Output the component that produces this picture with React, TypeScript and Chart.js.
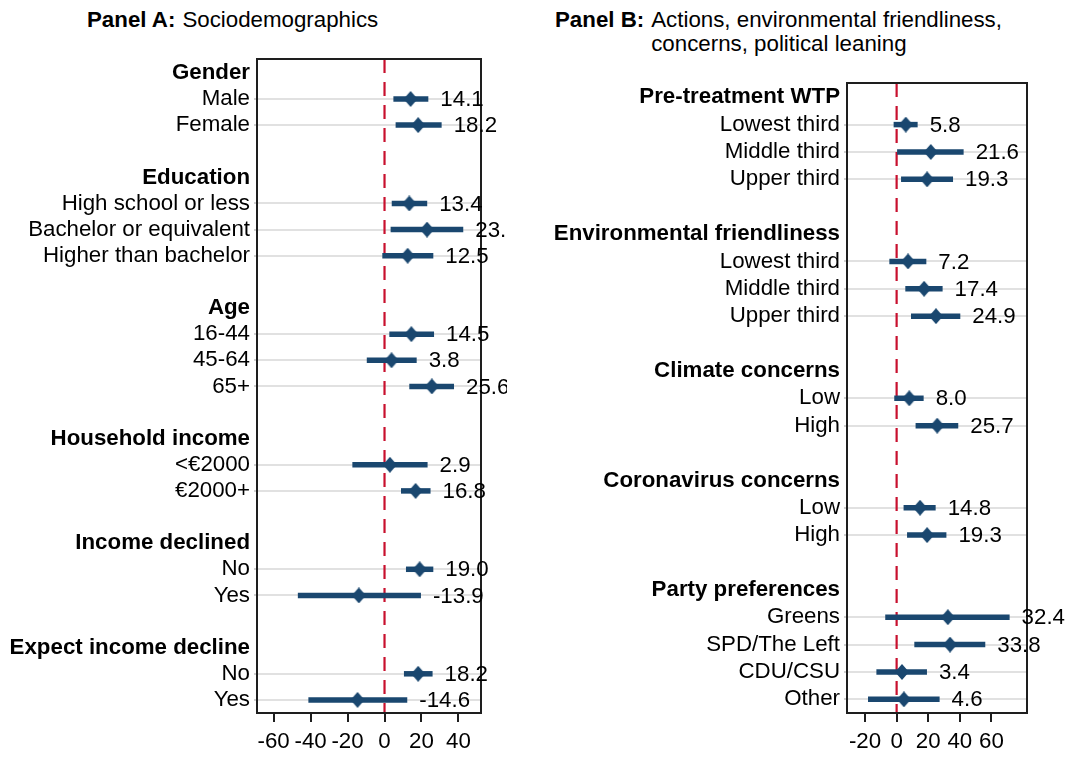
import React, { useEffect, useRef } from 'react';
import { Chart, registerables } from 'chart.js';

Chart.register(...registerables);

const FONT = "'Liberation Sans', Arial, Helvetica, sans-serif";
const FS = 22.3;
const NAVY = '#1a476f';
const RED = '#c8102e';
const GRID = '#e1e1e1';
const FRAME = '#1e1e1e';

// ---------- Panel A: Sociodemographics ----------
const rowsA = [
  'Gender', 'Male', 'Female', '',
  'Education', 'High school or less', 'Bachelor or equivalent', 'Higher than bachelor', '',
  'Age', '16-44', '45-64', '65+', '',
  'Household income', '<€2000', '€2000+', '',
  'Income declined', 'No', 'Yes', '',
  'Expect income decline', 'No', 'Yes',
];
const headersA = [0, 4, 9, 14, 18, 22];
const dataRowsA = [1, 2, 5, 6, 7, 10, 11, 12, 15, 16, 19, 20, 23, 24];
const estA = [14.1, 18.2, 13.4, 23.0, 12.5, 14.5, 3.8, 25.6, 2.9, 16.8, 19.0, -13.9, 18.2, -14.6];
const loA = [4.8, 6.0, 3.9, 3.3, -1.2, 2.6, -9.6, 13.4, -17.4, 8.9, 11.6, -46.9, 10.5, -41.2];
const hiA = [23.7, 30.9, 23.1, 42.6, 26.4, 26.8, 17.4, 37.6, 23.3, 24.9, 26.4, 19.7, 26.0, 12.3];
const xTicksA = [-60, -40, -20, 0, 20, 40];

// ---------- Panel B: Actions, environmental friendliness, concerns, political leaning ----------
const rowsB = [
  'Pre-treatment WTP', 'Lowest third', 'Middle third', 'Upper third', '',
  'Environmental friendliness', 'Lowest third', 'Middle third', 'Upper third', '',
  'Climate concerns', 'Low', 'High', '',
  'Coronavirus concerns', 'Low', 'High', '',
  'Party preferences', 'Greens', 'SPD/The Left', 'CDU/CSU', 'Other',
];
const headersB = [0, 5, 10, 14, 18];
const dataRowsB = [1, 2, 3, 6, 7, 8, 11, 12, 15, 16, 19, 20, 21, 22];
const estB = [5.8, 21.6, 19.3, 7.2, 17.4, 24.9, 8.0, 25.7, 14.8, 19.3, 32.4, 33.8, 3.4, 4.6];
const loB = [-1.9, 0.3, 2.8, -4.6, 5.5, 9.1, -1.5, 12.0, 4.4, 6.6, -7.2, 11.2, -12.8, -18.1];
const hiB = [13.3, 42.4, 35.7, 18.8, 29.1, 40.3, 17.1, 39.0, 24.7, 31.5, 71.5, 56.1, 19.2, 27.2];
const xTicksB = [-20, 0, 20, 40, 60];

type PanelCfg = {
  rows: string[];
  headers: number[];
  dataRows: number[];
  est: number[];
  lo: number[];
  hi: number[];
  xTicks: number[];
  xMin: number;
  xMax: number;
  yMin: number;
  yMax: number;
  axisWidth: number;
  padRight: number;
  padTop: number;
};

function makeDiamond(): HTMLCanvasElement {
  const w = 14;
  const h = 16;
  const c = document.createElement('canvas');
  c.width = w;
  c.height = h;
  const g = c.getContext('2d')!;
  g.fillStyle = NAVY;
  g.beginPath();
  g.moveTo(w / 2, 0);
  g.lineTo(w, h / 2);
  g.lineTo(w / 2, h);
  g.lineTo(0, h / 2);
  g.closePath();
  g.fill();
  return c;
}

function buildChart(canvas: HTMLCanvasElement, p: PanelCfg) {
  const isHeader = (i: any) => p.headers.includes(i);
  const isData = (i: any) => p.dataRows.includes(i);
  const diamond = makeDiamond();
  const datasets: any[] = [];
  datasets.push({
    label: 'estimate',
    data: p.dataRows.map((r, k) => ({ x: p.est[k], y: r })),
    pointStyle: diamond,
    pointRadius: 8,
    pointBackgroundColor: NAVY,
    pointBorderWidth: 0,
    showLine: false,
    order: 0,
  });
  p.dataRows.forEach((r, k) => {
    datasets.push({
      label: 'ci',
      data: [{ x: p.lo[k], y: r }, { x: p.hi[k], y: r }],
      showLine: true,
      borderColor: NAVY,
      borderWidth: 5.5,
      borderCapStyle: 'butt',
      pointRadius: 0,
      order: 1,
    });
  });
  datasets.push({
    label: 'zero',
    data: [{ x: 0, y: p.yMin }, { x: 0, y: p.yMax }],
    showLine: true,
    borderColor: RED,
    borderWidth: 2.2,
    borderDash: [14, 9],
    pointRadius: 0,
    order: 2,
  });

  const overlay = {
    id: 'overlay',
    afterDatasetsDraw(chart: any) {
      const { ctx, chartArea } = chart;
      const xs = chart.scales.x;
      const ys = chart.scales.y;
      ctx.save();
      ctx.strokeStyle = FRAME;
      ctx.lineWidth = 2;
      ctx.strokeRect(chartArea.left, chartArea.top, chartArea.right - chartArea.left, chartArea.bottom - chartArea.top);
      ctx.fillStyle = '#000';
      ctx.font = `${FS}px ${FONT}`;
      ctx.textAlign = 'left';
      ctx.textBaseline = 'middle';
      p.dataRows.forEach((r, k) => {
        const x = xs.getPixelForValue(p.hi[k]) + 12;
        const y = ys.getPixelForValue(r) + 1;
        ctx.fillText(p.est[k].toFixed(1), x, y);
      });
      ctx.restore();
    },
  };

  return new Chart(canvas, {
    type: 'scatter',
    data: { datasets },
    plugins: [overlay],
    options: {
      animation: false,
      responsive: false,
      events: [],
      layout: { padding: { left: 0, right: p.padRight, top: p.padTop, bottom: 0 } },
      plugins: { legend: { display: false }, tooltip: { enabled: false }, title: { display: false } },
      scales: {
        x: {
          type: 'linear',
          min: p.xMin,
          max: p.xMax,
          afterBuildTicks: (s: any) => {
            s.ticks = p.xTicks.map((v) => ({ value: v }));
          },
          afterFit: (s: any) => {
            s.height = 45;
          },
          grid: {
            drawOnChartArea: false,
            drawTicks: true,
            tickLength: 9,
            tickColor: FRAME,
            tickWidth: 2,
            lineWidth: 2,
          },
          border: { display: false },
          ticks: {
            autoSkip: false,
            maxRotation: 0,
            padding: 6,
            color: '#000',
            font: { family: FONT, size: FS },
            callback: (v: any) => String(v),
          },
        },
        y: {
          type: 'linear',
          reverse: true,
          min: p.yMin,
          max: p.yMax,
          afterBuildTicks: (s: any) => {
            s.ticks = p.rows.map((_, i) => ({ value: i }));
          },
          afterFit: (s: any) => {
            s.width = p.axisWidth;
          },
          grid: {
            color: (c: any) => (isData(c.tick?.value) ? GRID : 'rgba(0,0,0,0)'),
            tickColor: (c: any) => (isData(c.tick?.value) ? '#d0d0d0' : 'rgba(0,0,0,0)'),
            lineWidth: 2,
            drawTicks: true,
            tickLength: 3,
          },
          border: { display: false },
          ticks: {
            autoSkip: false,
            padding: 4,
            color: '#000',
            font: (c: any) => ({ family: FONT, size: FS, weight: isHeader(c.tick?.value) ? 'bold' : 'normal' }),
            callback: (v: any) => p.rows[v] ?? '',
          },
        },
      },
    } as any,
  });
}

const panelA: PanelCfg = {
  rows: rowsA, headers: headersA, dataRows: dataRowsA, est: estA, lo: loA, hi: hiA, xTicks: xTicksA,
  xMin: -69, xMax: 52.2, yMin: -0.53, yMax: 24.5, axisWidth: 257, padRight: 26, padTop: 59,
};
const panelB: PanelCfg = {
  rows: rowsB, headers: headersB, dataRows: dataRowsB, est: estB, lo: loB, hi: hiB, xTicks: xTicksB,
  xMin: -31.4, xMax: 82.5, yMin: -0.52, yMax: 22.5, axisWidth: 327, padRight: 42, padTop: 83,
};

export default function App() {
  const refA = useRef<HTMLCanvasElement>(null);
  const refB = useRef<HTMLCanvasElement>(null);
  useEffect(() => {
    const a = buildChart(refA.current!, panelA);
    const b = buildChart(refB.current!, panelB);
    return () => {
      a.destroy();
      b.destroy();
    };
  }, []);
  const titleStyle: React.CSSProperties = {
    position: 'absolute',
    top: 8,
    fontFamily: FONT,
    fontSize: FS,
    lineHeight: '24px',
    color: '#000',
    display: 'flex',
    whiteSpace: 'nowrap',
  };
  return (
    <div style={{ position: 'absolute', left: 0, top: 0, width: 1069, height: 758, background: '#fff', overflow: 'hidden' }}>
      <div style={{ ...titleStyle, left: 87 }}>
        <b style={{ marginRight: 7 }}>Panel A:</b>
        <span>Sociodemographics</span>
      </div>
      <div style={{ ...titleStyle, left: 555 }}>
        <b style={{ marginRight: 7 }}>Panel B:</b>
        <span>
          Actions, environmental friendliness,
          <br />
          concerns, political leaning
        </span>
      </div>
      <canvas ref={refA} width={507} height={758} style={{ position: 'absolute', left: 0, top: 0 }} />
      <canvas ref={refB} width={549} height={758} style={{ position: 'absolute', left: 520, top: 0 }} />
    </div>
  );
}
